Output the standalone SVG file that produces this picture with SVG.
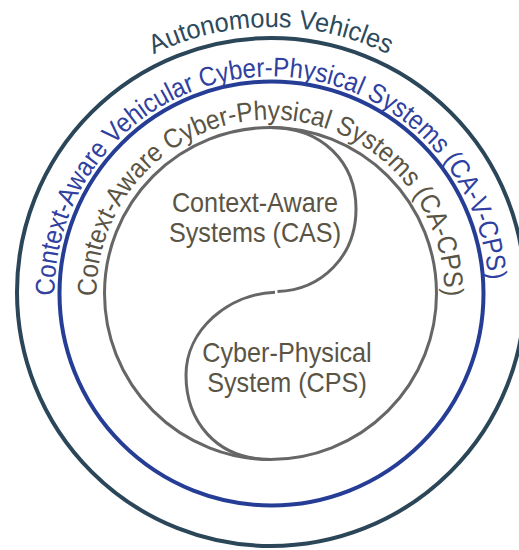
<svg xmlns="http://www.w3.org/2000/svg" xmlns:xlink="http://www.w3.org/1999/xlink" width="519" height="550" viewBox="0 0 519 550">
<style>
.ring{fill:none}
.t{font-family:"Liberation Sans",Arial,sans-serif}
.av-line{stroke:#2a4658;stroke-width:4}
.av-text{fill:#2d4a5c;font-size:26.5px}
.cav-line{stroke:#263d96;stroke-width:4}
.cav-text{fill:#2f40a0;font-size:27px}
.cacps-line{stroke:#666666;stroke-width:3}
.cacps-text{fill:#5a5445;font-size:27px}
.inner-text{fill:#5a5445;font-size:28px;text-anchor:middle}
</style>
<defs>
<path id="p-av" d="M 10.03 338.02 A 265 265 0 1 1 531.97 338.02"/>
<path id="p-cav" d="M 57.80 331.18 A 217 217 0 1 1 485.20 331.18"/>
<path id="p-cacps" d="M 99.14 323.72 A 174 174 0 1 1 441.86 323.72"/>
</defs>
<rect width="519" height="550" fill="#ffffff"/>
<g id="autonomous-vehicles">
<circle class="ring av-line" cx="271" cy="292" r="254"/>
<text class="t av-text" text-anchor="middle"><textPath xlink:href="#p-av" href="#p-av" startOffset="50%" textLength="243" lengthAdjust="spacingAndGlyphs">Autonomous Vehicles</textPath></text>
</g>
<g id="ca-v-cps">
<circle class="ring cav-line" cx="271.5" cy="293.5" r="212"/>
<text class="t cav-text" text-anchor="middle"><textPath xlink:href="#p-cav" href="#p-cav" startOffset="48.95%" textLength="670" lengthAdjust="spacingAndGlyphs">Context-Aware Vehicular Cyber-Physical Systems (CA-V-CPS)</textPath></text>
</g>
<g id="ca-cps">
<circle class="ring cacps-line" cx="270.5" cy="293.5" r="166"/>
<text class="t cacps-text" text-anchor="middle"><textPath xlink:href="#p-cacps" href="#p-cacps" startOffset="50%" textLength="552" lengthAdjust="spacingAndGlyphs">Context-Aware Cyber-Physical Systems (CA-CPS)</textPath></text>
</g>
<g id="cas">
<path class="ring cacps-line" d="M 270.5 127.5 C 322 127.5 356 162 356 209 C 356 256 322 290 277.5 291.6"/>
<text class="t inner-text" transform="translate(255 212) scale(0.9 1)">Context-Aware</text>
<text class="t inner-text" transform="translate(255 242) scale(0.9 1)">Systems (CAS)</text>
</g>
<g id="cps">
<path class="ring cacps-line" d="M 275 292.2 C 228 294 186 330 186 375 C 186 420 215 459.5 270.5 459.5"/>
<text class="t inner-text" transform="translate(287 362) scale(0.9 1)">Cyber-Physical</text>
<text class="t inner-text" transform="translate(287 392) scale(0.9 1)">System (CPS)</text>
</g>
</svg>
